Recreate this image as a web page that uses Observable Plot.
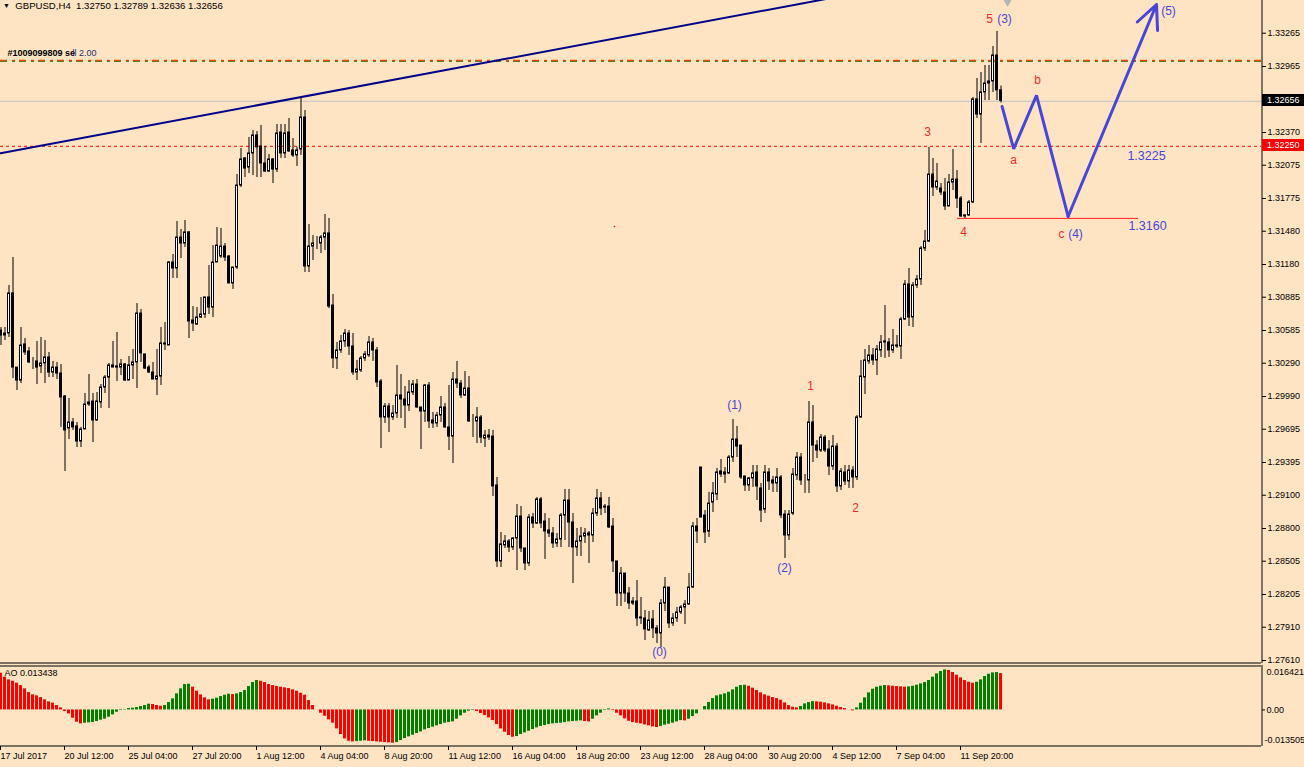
<!DOCTYPE html>
<html><head><meta charset="utf-8">
<script src="https://cdn.jsdelivr.net/npm/d3@7"></script>
<script src="https://cdn.jsdelivr.net/npm/@observablehq/plot@0.6"></script>
<style>
html,body{margin:0;padding:0;background:#ffe4c4;}
#wrap{position:relative;width:1304px;height:767px;overflow:hidden;background:#ffe4c4;font-family:"Liberation Sans",Arial,sans-serif;}
#main{position:absolute;left:0;top:0;}
#ao{position:absolute;left:0;top:664px;}
#hdr{position:absolute;left:3px;top:0px;font-size:9.6px;line-height:12px;white-space:pre;color:#000;}
#hdr .tri{font-size:7px;vertical-align:1px;}
</style></head>
<body><div id="wrap"><div id="main"></div><div id="ao"></div><div id="hdr"></div></div>
<script>
// ---------- DATA ----------
const symbol = "GBPUSD,H4";
const open = [1.30585,1.30540,1.30558,1.30919,1.30251,1.30134,1.30459,1.30396,1.30297,1.30306,
1.30261,1.30288,1.30342,1.30206,1.30251,1.30197,1.29990,1.29702,1.29756,1.29720,
1.29584,1.29693,1.29918,1.29945,1.29774,1.29936,1.30071,1.30161,1.30270,1.30261,
1.30251,1.30279,1.30134,1.30270,1.30297,1.30738,1.30369,1.30251,1.30206,1.30143,
1.30170,1.30459,1.30450,1.31198,1.31144,1.31423,1.31369,1.31469,1.30675,1.30639,
1.30702,1.30729,1.30883,1.30792,1.31198,1.31252,1.31342,1.31252,1.31009,1.31153,
1.31892,1.32136,1.32054,1.32181,1.32343,1.32244,1.32091,1.32018,1.32127,1.32036,
1.32370,1.32181,1.32370,1.32208,1.32163,1.32217,1.32505,1.31162,1.31342,1.31369,
1.31369,1.31423,1.31460,1.30810,1.30333,1.30405,1.30486,1.30558,1.30441,1.30206,
1.30224,1.30333,1.30360,1.30477,1.30405,1.30125,1.29801,1.29900,1.29801,1.29837,
1.29999,1.29963,1.29909,1.30026,1.30098,1.29891,1.29855,1.30089,1.29774,1.29747,
1.29819,1.29891,1.29711,1.29629,1.30143,1.30107,1.29999,1.30062,1.29774,1.29765,
1.29801,1.29611,1.29638,1.29629,1.29188,1.28503,1.28647,1.28683,1.28629,1.28710,
1.28908,1.28620,1.28485,1.28899,1.28845,1.29062,1.28863,1.28782,1.28755,1.28665,
1.28701,1.28917,1.29052,1.28854,1.28629,1.28683,1.28728,1.28755,1.28737,1.28935,
1.29071,1.28998,1.28998,1.28818,1.28503,1.28214,1.28394,1.28214,1.28124,1.28142,
1.27998,1.27989,1.27881,1.27980,1.27899,1.27854,1.28124,1.28268,1.27944,1.27989,
1.28043,1.28088,1.28115,1.28268,1.28818,1.29350,1.28917,1.28773,1.29034,1.29107,
1.29314,1.29305,1.29296,1.29440,1.29602,1.29548,1.29269,1.29188,1.29251,1.29305,
1.29161,1.28971,1.29305,1.29233,1.29206,1.29260,1.28926,1.28737,1.28935,1.29278,
1.29440,1.29233,1.29233,1.29756,1.29548,1.29503,1.29620,1.29512,1.29359,1.29539,
1.29179,1.29305,1.29224,1.29323,1.29260,1.29801,1.30161,1.30306,1.30360,1.30315,
1.30405,1.30477,1.30477,1.30405,1.30450,1.30441,1.30684,1.31000,1.30702,1.30991,
1.31045,1.31324,1.31387,1.31991,1.31874,1.31865,1.31829,1.31703,1.31919,1.31946,
1.31775,1.31622,1.31622,1.31739,1.32668,1.32532,1.32731,1.32812,1.32830,1.33064,
1.32750];
const high = [1.30612,1.30612,1.30991,1.31243,1.30251,1.30612,1.30513,1.30432,1.30342,1.30486,
1.30522,1.30495,1.30387,1.30306,1.30297,1.30279,1.29999,1.29972,1.29792,1.29756,
1.29711,1.30017,1.30188,1.30017,1.30026,1.30098,1.30179,1.30288,1.30486,1.30567,
1.30324,1.30288,1.30351,1.30414,1.30828,1.30774,1.30369,1.30270,1.30297,1.30414,
1.30612,1.30657,1.31207,1.31270,1.31568,1.31496,1.31577,1.31478,1.30801,1.30792,
1.30883,1.30883,1.31171,1.31351,1.31514,1.31505,1.31369,1.31261,1.31153,1.31991,
1.32226,1.32145,1.32325,1.32388,1.32379,1.32433,1.32244,1.32172,1.32136,1.32442,
1.32442,1.32442,1.32496,1.32316,1.32235,1.32686,1.32568,1.31541,1.31441,1.31432,
1.31441,1.31631,1.31595,1.30910,1.30477,1.30540,1.30594,1.30585,1.30558,1.30315,
1.30351,1.30396,1.30531,1.30513,1.30432,1.30143,1.29927,1.29927,1.29909,1.30270,
1.30188,1.30080,1.30134,1.30134,1.30143,1.29891,1.30098,1.30116,1.29846,1.29846,
1.29990,1.29927,1.30089,1.30206,1.30306,1.30134,1.30215,1.30170,1.29828,1.29891,
1.29819,1.29684,1.29693,1.29684,1.29260,1.28764,1.28737,1.28701,1.28719,1.29016,
1.28998,1.28620,1.28926,1.28935,1.29080,1.29080,1.28935,1.28890,1.28809,1.28755,
1.28935,1.29152,1.29152,1.28935,1.28800,1.28809,1.28800,1.28773,1.28980,1.29152,
1.29125,1.29016,1.29080,1.28890,1.28503,1.28448,1.28394,1.28268,1.28178,1.28331,
1.28178,1.28061,1.28052,1.28061,1.27926,1.28160,1.28358,1.28268,1.28034,1.28088,
1.28106,1.28151,1.28394,1.28854,1.28890,1.29350,1.28962,1.29125,1.29215,1.29341,
1.29422,1.29350,1.29458,1.29783,1.29720,1.29548,1.29269,1.29260,1.29368,1.29368,
1.29206,1.29368,1.29341,1.29269,1.29341,1.29278,1.28962,1.28962,1.29341,1.29485,
1.29476,1.29287,1.29945,1.29909,1.29593,1.29647,1.29638,1.29593,1.29638,1.29566,
1.29341,1.29368,1.29368,1.29359,1.29819,1.30315,1.30414,1.30450,1.30423,1.30450,
1.30540,1.30810,1.30513,1.30594,1.30540,1.30702,1.31036,1.31144,1.31018,1.31081,
1.31342,1.31487,1.32235,1.32136,1.32091,1.31910,1.31955,1.31991,1.32217,1.32027,
1.31793,1.31631,1.31757,1.32686,1.32857,1.32911,1.32974,1.32974,1.33145,1.33281,
1.32789];
const low = [1.30450,1.30495,1.30522,1.30152,1.30044,1.30107,1.30360,1.30288,1.30233,1.30098,
1.30197,1.30107,1.30161,1.30161,1.30143,1.29711,1.29314,1.29602,1.29684,1.29530,
1.29530,1.29693,1.29900,1.29575,1.29765,1.29882,1.30017,1.29882,1.30251,1.30125,
1.30179,1.30125,1.30134,1.30143,1.30062,1.30297,1.30233,1.30197,1.30143,1.29999,
1.30089,1.30405,1.30450,1.31054,1.31054,1.31234,1.31333,1.30513,1.30576,1.30630,
1.30693,1.30693,1.30729,1.30702,1.31198,1.31234,1.31207,1.31009,1.30955,1.31135,
1.31874,1.31964,1.32000,1.31982,1.31964,1.31964,1.32009,1.32009,1.31910,1.32009,
1.32136,1.32136,1.32190,1.32145,1.32064,1.32163,1.31108,1.31108,1.31216,1.31315,
1.31279,1.31306,1.30783,1.30242,1.30233,1.30378,1.30432,1.30360,1.30179,1.30134,
1.30206,1.30306,1.30342,1.30306,1.30071,1.29521,1.29747,1.29666,1.29774,1.29792,
1.29792,1.29702,1.29855,1.29999,1.29882,1.29512,1.29756,1.29702,1.29702,1.29711,
1.29756,1.29702,1.29503,1.29386,1.30062,1.29972,1.29990,1.29756,1.29620,1.29566,
1.29566,1.29530,1.29593,1.29089,1.28448,1.28448,1.28620,1.28584,1.28602,1.28421,
1.28584,1.28421,1.28458,1.28800,1.28836,1.28800,1.28521,1.28719,1.28620,1.28629,
1.28629,1.28692,1.28629,1.28304,1.28548,1.28548,1.28665,1.28485,1.28674,1.28908,
1.28917,1.28935,1.28800,1.28403,1.28097,1.28097,1.28133,1.28070,1.28106,1.27917,
1.27935,1.27790,1.27872,1.27808,1.27763,1.27727,1.28052,1.27899,1.27917,1.27953,
1.28025,1.27935,1.28106,1.28259,1.28665,1.28899,1.28665,1.28719,1.28944,1.29052,
1.29260,1.29206,1.29287,1.29395,1.29440,1.29242,1.29134,1.29134,1.29170,1.29052,
1.28854,1.28935,1.29143,1.29125,1.29125,1.28890,1.28530,1.28692,1.28917,1.29233,
1.29188,1.29116,1.29116,1.29395,1.29431,1.29485,1.29485,1.29278,1.29323,1.29125,
1.29143,1.29188,1.29161,1.29161,1.29233,1.29792,1.30008,1.30279,1.30270,1.30179,
1.30342,1.30333,1.30342,1.30378,1.30423,1.30324,1.30675,1.30621,1.30612,1.30964,
1.30991,1.31297,1.31378,1.31793,1.31847,1.31802,1.31667,1.31703,1.31847,1.31685,
1.31604,1.31595,1.31613,1.31730,1.32496,1.32271,1.32658,1.32658,1.32731,1.32658,
1.32636];
const close = [1.30540,1.30558,1.30919,1.30251,1.30134,1.30450,1.30387,1.30297,1.30297,1.30251,
1.30288,1.30342,1.30206,1.30251,1.30197,1.29981,1.29684,1.29756,1.29711,1.29584,
1.29693,1.29918,1.29936,1.29774,1.29945,1.30071,1.30161,1.30270,1.30251,1.30251,
1.30279,1.30134,1.30270,1.30297,1.30738,1.30378,1.30242,1.30206,1.30143,1.30170,
1.30468,1.30468,1.31198,1.31144,1.31423,1.31369,1.31469,1.30666,1.30648,1.30702,
1.30729,1.30883,1.30792,1.31198,1.31351,1.31342,1.31243,1.31009,1.31153,1.31892,
1.32127,1.32045,1.32181,1.32343,1.32235,1.32091,1.32018,1.32127,1.32036,1.32361,
1.32181,1.32361,1.32199,1.32163,1.32208,1.32505,1.31162,1.31342,1.31369,1.31369,
1.31423,1.31460,1.30801,1.30333,1.30405,1.30486,1.30558,1.30441,1.30206,1.30233,
1.30333,1.30369,1.30477,1.30405,1.30116,1.29801,1.29900,1.29801,1.29837,1.29999,
1.29963,1.29909,1.30026,1.30098,1.29891,1.29855,1.30089,1.29765,1.29747,1.29819,
1.29891,1.29711,1.29629,1.30143,1.30107,1.29999,1.30062,1.29765,1.29774,1.29801,
1.29620,1.29638,1.29620,1.29179,1.28503,1.28656,1.28683,1.28629,1.28710,1.28908,
1.28620,1.28485,1.28899,1.28845,1.29062,1.28845,1.28773,1.28755,1.28665,1.28701,
1.28917,1.29052,1.28854,1.28629,1.28683,1.28728,1.28755,1.28737,1.28935,1.29071,
1.28980,1.28989,1.28809,1.28503,1.28214,1.28394,1.28214,1.28124,1.28142,1.27989,
1.27989,1.27890,1.27971,1.27899,1.27854,1.28124,1.28268,1.27944,1.27989,1.28043,
1.28088,1.28115,1.28268,1.28818,1.28773,1.28899,1.28764,1.29025,1.29116,1.29305,
1.29287,1.29287,1.29440,1.29602,1.29539,1.29260,1.29188,1.29251,1.29296,1.29179,
1.28962,1.29305,1.29224,1.29206,1.29260,1.28917,1.28737,1.28926,1.29287,1.29440,
1.29233,1.29233,1.29756,1.29548,1.29503,1.29620,1.29503,1.29359,1.29539,1.29179,
1.29314,1.29224,1.29323,1.29260,1.29801,1.30170,1.30315,1.30360,1.30315,1.30414,
1.30477,1.30486,1.30405,1.30450,1.30441,1.30684,1.31000,1.30702,1.30991,1.31045,
1.31324,1.31387,1.31991,1.31874,1.31928,1.31829,1.31703,1.31919,1.31946,1.31775,
1.31613,1.31613,1.31739,1.32668,1.32532,1.32731,1.32812,1.32830,1.33064,1.32750,
1.32656];
// Awesome Oscillator values per bar
const ao = [0.01358,0.01210,0.01111,0.01062,0.00988,0.00902,0.00779,0.00643,0.00557,0.00520,
0.00458,0.00372,0.00298,0.00249,0.00163,0.00076,-0.00059,-0.00145,-0.00306,-0.00453,
-0.00515,-0.00490,-0.00478,-0.00466,-0.00429,-0.00379,-0.00342,-0.00269,-0.00182,-0.00084,
-0.00022,0.00015,0.00052,0.00064,0.00089,0.00126,0.00163,0.00212,0.00200,0.00163,
0.00138,0.00163,0.00274,0.00409,0.00594,0.00779,0.00939,0.00951,0.00840,0.00692,
0.00557,0.00446,0.00372,0.00397,0.00434,0.00495,0.00545,0.00582,0.00569,0.00594,
0.00643,0.00717,0.00865,0.01013,0.01087,0.01062,0.01013,0.00939,0.00902,0.00865,
0.00840,0.00816,0.00791,0.00742,0.00692,0.00618,0.00545,0.00347,0.00163,0.00002,
-0.00121,-0.00232,-0.00367,-0.00490,-0.00700,-0.00909,-0.01069,-0.01156,-0.01180,-0.01168,
-0.01156,-0.01143,-0.01156,-0.01168,-0.01180,-0.01193,-0.01205,-0.01217,-0.01230,-0.01205,
-0.01131,-0.01057,-0.00995,-0.00934,-0.00872,-0.00811,-0.00737,-0.00687,-0.00638,-0.00589,
-0.00540,-0.00490,-0.00466,-0.00441,-0.00342,-0.00219,-0.00121,-0.00047,-0.00022,-0.00059,
-0.00133,-0.00207,-0.00293,-0.00392,-0.00540,-0.00700,-0.00823,-0.00946,-0.01008,-0.00983,
-0.00909,-0.00848,-0.00786,-0.00724,-0.00663,-0.00614,-0.00577,-0.00540,-0.00515,-0.00503,
-0.00490,-0.00466,-0.00441,-0.00429,-0.00416,-0.00404,-0.00429,-0.00441,-0.00342,-0.00219,
-0.00121,-0.00022,0.00039,-0.00022,-0.00121,-0.00219,-0.00330,-0.00416,-0.00466,-0.00490,
-0.00515,-0.00552,-0.00589,-0.00626,-0.00650,-0.00614,-0.00564,-0.00527,-0.00490,-0.00441,
-0.00392,-0.00404,-0.00342,-0.00244,-0.00145,0.00002,0.00126,0.00274,0.00421,0.00520,
0.00557,0.00594,0.00655,0.00742,0.00840,0.00902,0.00914,0.00877,0.00803,0.00717,
0.00631,0.00557,0.00508,0.00458,0.00421,0.00360,0.00261,0.00163,0.00101,0.00076,
0.00126,0.00224,0.00274,0.00310,0.00298,0.00286,0.00261,0.00224,0.00187,0.00138,
0.00089,0.00052,0.00002,-0.00034,0.00076,0.00249,0.00446,0.00631,0.00766,0.00840,
0.00877,0.00902,0.00890,0.00877,0.00865,0.00853,0.00840,0.00853,0.00877,0.00914,
0.00963,0.01013,0.01087,0.01210,0.01333,0.01419,0.01481,0.01456,0.01382,0.01284,
0.01185,0.01087,0.01025,0.00988,0.01025,0.01111,0.01234,0.01321,0.01370,0.01382,
0.013438];
const aoMax = 0.016421, aoMin = -0.013505;
const priceTicks = [1.33265,1.32965,1.32370,1.32075,1.31775,1.31480,1.31180,1.30885,1.30585,1.30290,
  1.29990,1.29695,1.29395,1.29100,1.28800,1.28505,1.28205,1.27910,1.27610];
const dateIdx = [0,16,32,48,64,80,96,112,128,144,160,176,192,208,224,240];
const dateLabels = ["17 Jul 2017","20 Jul 12:00","25 Jul 04:00","27 Jul 20:00","1 Aug 12:00","4 Aug 04:00",
  "8 Aug 20:00","11 Aug 12:00","16 Aug 04:00","18 Aug 20:00","23 Aug 12:00","28 Aug 04:00",
  "30 Aug 20:00","4 Sep 12:00","7 Sep 04:00","11 Sep 20:00"];
const orderPrice = 1.3302, orderTicket = "#1009099809 se", orderRest = "ll 2.00";
const bidPrice = 1.32656;
const targetA = 1.3225, targetC = 1.3160;
const trendI = [0, 210], trendP = [1.32183, 1.33598];
const waveI = [250.4, 253.3, 259, 266.9, 289];
const waveP = [1.32604, 1.32223, 1.32704, 1.31613, 1.33524];
const redLabels = ["1","2","3","4","5","a","b","c"];
const redLabelI = [202.5, 213.75, 231.75, 240.75, 247.25, 253.25, 259.25, 265.25];
const redLabelP = [1.30080, 1.28980, 1.32370, 1.31469, 1.33389, 1.32118, 1.32839, 1.31451];
const blueLabels = ["(0)","(1)","(2)","(3)","(4)","(5)"];
const blueLabelI = [164.75, 183.5, 196, 251, 268.75, 292];
const blueLabelP = [1.27682, 1.29909, 1.28439, 1.33389, 1.31451, 1.33461];
const levelTexts = ["1.3225","1.3160"];
const levelTextI = [286.5, 286.75];
const levelTextP = [1.32154, 1.31523];

// ---------- BUILD ----------
const FONT = "'Liberation Sans', Arial, sans-serif";
const XMAX = 315.25; // visible bar slots
const bars = close.map((c, i) => ({i, o: open[i], h: high[i], l: low[i], c}));
const up = bars.filter(d => d.c >= d.o), dn = bars.filter(d => d.c < d.o);
const trend = trendI.map((i, k) => ({i, p: trendP[k]}));
const wave = waveI.map((i, k) => ({i, p: waveP[k]}));
const redL = redLabels.map((t, k) => ({t, i: redLabelI[k], p: redLabelP[k]}));
const blueL = blueLabels.map((t, k) => ({t, i: blueLabelI[k], p: blueLabelP[k]}));
const lvlT = levelTexts.map((t, k) => ({t, i: levelTextI[k], p: levelTextP[k]}));
const f5 = d3.format(".5f");
const last = close.length - 1;
const BLUE = "#4646d8", RED = "#f22a2a";

const main = Plot.plot({
  width: 1304, height: 664,
  marginTop: 0, marginBottom: 1, marginLeft: 0, marginRight: 43,
  x: {domain: [0, XMAX], axis: null, label: null},
  y: {domain: [1.27583, 1.33560], axis: null, label: null},
  style: {background: "transparent", fontFamily: FONT, fontSize: "9px", color: "#000"},
  marks: [
    Plot.ruleY([orderPrice], {stroke: "#1f7a1f", strokeDasharray: "7,5,3,4", dy: 1}),
    Plot.ruleY([orderPrice], {stroke: "#f04a00", strokeDasharray: "7,5,3,4", strokeWidth: 1.5}),
    Plot.ruleY([bidPrice], {stroke: "#c0c0c0", dy: 0.5}),
    Plot.ruleY([targetA], {stroke: "#ff0000", strokeDasharray: "3,3", dy: 0.5}),
    Plot.ruleY([{p: targetC, i1: 239.25, i2: 284.5}], {y: "p", x1: "i1", x2: "i2", stroke: "#ff2020", dy: 0.5}),
    Plot.line(trend, {x: "i", y: "p", stroke: "#00008b", strokeWidth: 2, clip: true}),
    Plot.ruleX(bars, {x: "i", y1: "l", y2: "h", stroke: "#000", dx: 0.5}),
    Plot.rect(up, {x1: d => d.i - 0.25, x2: d => d.i + 0.25, y1: "o", y2: "c", fill: "#fff", stroke: "#000", dx: 0.5}),
    Plot.rect(dn, {x1: d => d.i - 0.25, x2: d => d.i + 0.25, y1: "o", y2: "c", fill: "#000", stroke: "#000", dx: 0.5}),
    Plot.line(wave.slice(0, 4), {x: "i", y: "p", stroke: BLUE, strokeWidth: 3, strokeLinejoin: "miter"}),
    Plot.arrow([{a: wave[3], b: wave[4]}], {x1: d => d.a.i, y1: d => d.a.p, x2: d => d.b.i, y2: d => d.b.p,
      stroke: BLUE, strokeWidth: 3, headLength: 13, headAngle: 50}),
    Plot.text(redL, {x: "i", y: "p", text: "t", fill: RED, fontSize: 12}),
    Plot.text(blueL, {x: "i", y: "p", text: "t", fill: BLUE, fontSize: 12}),
    Plot.text(lvlT, {x: "i", y: "p", text: "t", fill: BLUE, fontSize: 12.5}),
    Plot.text([orderTicket], {x: 1.75, y: orderPrice, text: d => d, textAnchor: "start", dy: -7, fill: "#000", fontWeight: "bold"}),
    Plot.text([orderRest], {x: 1.75, y: orderPrice, text: d => d, textAnchor: "start", dx: 65, dy: -7, fill: "#23306e"}),
    Plot.dot([{i: 251.75, p: 1.3356}], {x: "i", y: "p", symbol: "diamond", r: 4, fill: "#b4b4b4"}),
    Plot.dot([{i: 153.5, p: 1.31523}], {x: "i", y: "p", r: 0.8, fill: "#ff0000"}),
    Plot.ruleY([1.27583], {stroke: "#000", dy: -0.5}),
    Plot.ruleX([XMAX], {stroke: "#000", dx: 0.5}),
    Plot.axisY({anchor: "right", ticks: priceTicks, tickFormat: f5, tickSize: 4, tickPadding: 2, fontSize: 9, label: null})
  ]
});

// price label boxes attached to levels, positioned by the plot's scales
{
  const ys = main.scale("y"), xs = main.scale("x");
  const x0 = xs.apply(XMAX) + 1;
  const g = d3.select(main).append("g");
  for (const b of [{p: bidPrice, fill: "#000"}, {p: targetA, fill: "#ff0000"}]) {
    const y = Math.round(ys.apply(b.p));
    g.append("rect").attr("x", x0).attr("y", y - 6).attr("width", 1304 - x0).attr("height", 12).attr("fill", b.fill);
    g.append("text").attr("x", x0 + 5).attr("y", y).attr("dy", "0.35em").attr("fill", "#fff")
      .attr("text-anchor", "start").style("font-size", "9px").style("font-family", FONT).text(f5(b.p));
  }
}
document.getElementById("main").appendChild(main);

const aoRows = ao.map((v, i) => ({i, v, up: i > 0 && v > ao[i - 1]}));
const labelOf = new Map(dateIdx.map((d, k) => [d, dateLabels[k]]));
const aoPlot = Plot.plot({
  width: 1304, height: 103,
  marginTop: 1, marginBottom: 21, marginLeft: 0, marginRight: 43,
  x: {domain: [0, XMAX], axis: null, label: null},
  y: {domain: [aoMin, aoMax], axis: null, label: null},
  style: {background: "transparent", fontFamily: FONT, fontSize: "9px", color: "#000"},
  marks: [
    Plot.rect(aoRows.filter(d => d.up), {x1: d => d.i - 0.375, x2: d => d.i + 0.375, y1: 0, y2: "v", fill: "#008000", dx: 0.5}),
    Plot.rect(aoRows.filter(d => !d.up), {x1: d => d.i - 0.375, x2: d => d.i + 0.375, y1: 0, y2: "v", fill: "#ff0000", dx: 0.5}),
    Plot.ruleY([aoMax], {stroke: "#000", dy: 0.5}),
    Plot.ruleY([aoMin], {stroke: "#000", dy: -0.5}),
    Plot.ruleX([XMAX], {stroke: "#000", dx: 0.5}),
    Plot.axisY({anchor: "right", ticks: [0], tickFormat: () => "0.00", tickSize: 3, tickPadding: 2, fontSize: 9, label: null}),
    Plot.axisY({anchor: "right", ticks: [aoMax], tickFormat: d => String(d), tickSize: 0, tickPadding: 5, dy: 7, fontSize: 9, label: null}),
    Plot.axisY({anchor: "right", ticks: [aoMin], tickFormat: d => String(d), tickSize: 0, tickPadding: 3, dy: -6, fontSize: 9, label: null}),
    Plot.axisX({anchor: "bottom", ticks: dateIdx, tickFormat: d => labelOf.get(d), textAnchor: "start",
      tickSize: 4, tickPadding: 2, fontSize: 9, label: null}),
    Plot.text([`AO ${ao[last]}`], {text: d => d, frameAnchor: "top-left", dx: 4, dy: 4, textAnchor: "start", fill: "#000"})
  ]
});
document.getElementById("ao").appendChild(aoPlot);

document.getElementById("hdr").innerHTML =
  `<span class="tri">&#9660;</span>  ${symbol}  ${f5(open[last])} ${f5(high[last])} ${f5(low[last])} ${f5(close[last])}`;
</script>
</body></html>
